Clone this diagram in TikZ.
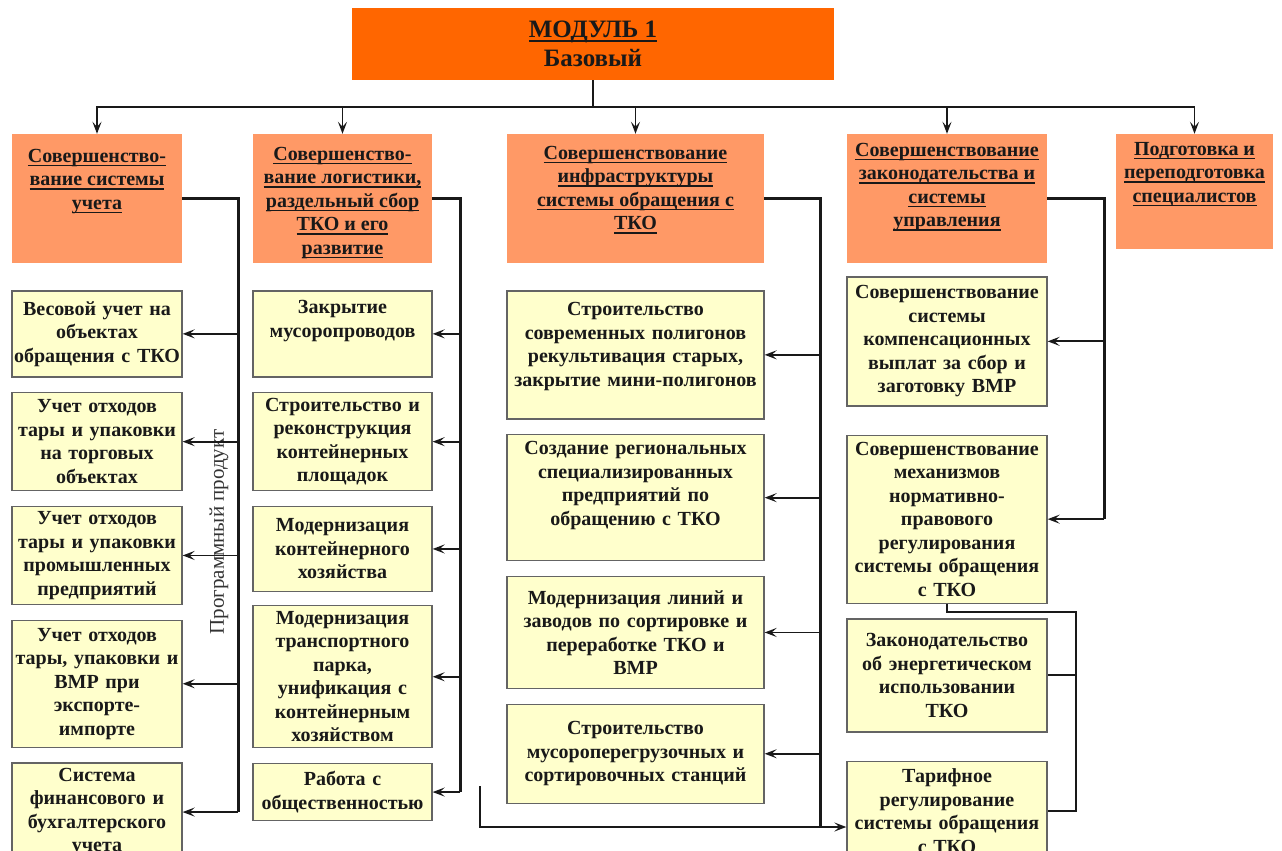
\documentclass[tikz,border=0pt]{standalone}
\usepackage{fontspec}
\setmainfont{Liberation Serif}
\usetikzlibrary{arrows.meta,positioning,calc}
\definecolor{modorange}{RGB}{255,102,0}
\definecolor{headsalmon}{RGB}{255,153,102}
\definecolor{itemyellow}{RGB}{255,255,204}
\definecolor{edgegray}{RGB}{100,100,100}
\definecolor{inkdark}{RGB}{25,25,25}
\newsavebox\ulbox
\newcommand{\uln}[1]{\leavevmode\sbox\ulbox{#1}\rlap{\rule[-4pt]{\wd\ulbox}{1.5pt}}\usebox\ulbox}
\newcommand{\toptext}[4]{\parbox[c][#2][t]{#1}{\centering\rule{0pt}{#3}#4}}
\tikzset{
  basefont/.style={font=\bfseries\fontsize{20}{23.5}\selectfont,text=inkdark},
  modbox/.style={rectangle,fill=modorange,minimum width=482pt,minimum height=72pt,inner sep=0pt,align=center,
    font=\bfseries\fontsize{25}{29}\selectfont,text=inkdark},
  headbox/.style={rectangle,fill=headsalmon,inner sep=0pt,basefont},
  itembox/.style={rectangle,fill=itemyellow,draw=edgegray,line width=1.3pt,inner sep=0pt,align=center,basefont},
  col1box/.style={itembox,minimum width=170pt,text width=168pt},
  col2box/.style={itembox,minimum width=179pt,text width=177pt},
  col3box/.style={itembox,minimum width=257pt,text width=255pt},
  col4box/.style={itembox,minimum width=200pt,text width=198pt},
  progtext/.style={font=\fontsize{21}{24}\selectfont,text=black!80},
  conn/.style={line width=2pt,color=inkdark},
  spine/.style={line width=2.6pt,color=inkdark},
  arr/.style={-{Stealth[length=12pt,width=9pt,inset=5pt]},line width=1.8pt,color=inkdark}
}

\begin{document}
\begin{tikzpicture}[x=1pt,y=-1pt,node distance=14.5pt]
  \useasboundingbox (0,0) rectangle (1282,851);

  \node[modbox] (mod) at (593,44) {\uln{МОДУЛЬ 1}\\Базовый};

  % directions of the module
  \node[headbox,minimum width=170pt] (h1) at (97,198.5)
    {\toptext{170pt}{129pt}{28pt}{\uln{Совершенство-}\\\uln{вание системы}\\\uln{учета}}};
  \node[headbox,minimum width=179pt] (h2) at (342.5,198.5)
    {\toptext{179pt}{129pt}{26pt}{\uln{Совершенство-}\\\uln{вание логистики,}\\\uln{раздельный сбор}\\\uln{ТКО и его}\\\uln{развитие}}};
  \node[headbox,minimum width=257pt] (h3) at (635.5,198.5)
    {\toptext{257pt}{129pt}{25pt}{\uln{Совершенствование}\\\uln{инфраструктуры}\\\uln{системы обращения с}\\\uln{ТКО}}};
  \node[headbox,minimum width=200pt] (h4) at (947,198.5)
    {\toptext{200pt}{129pt}{22pt}{\uln{Совершенствование}\\\uln{законодательства и}\\\uln{системы}\\\uln{управления}}};
  \node[headbox,minimum width=157pt] (h5) at (1194.5,191.5)
    {\toptext{157pt}{115pt}{21pt}{\uln{Подготовка и}\\\uln{переподготовка}\\\uln{специалистов}}};

  % column 1
  \node[col1box,minimum height=86pt,below=27pt of h1] (c1a) {Весовой учет на\\объектах\\обращения с ТКО};
  \node[col1box,minimum height=98pt,below=of c1a] (c1b) {Учет отходов\\тары и упаковки\\на торговых\\объектах};
  \node[col1box,minimum height=98pt,below=of c1b] (c1c) {Учет отходов\\тары и упаковки\\промышленных\\предприятий};
  \node[col1box,minimum height=127pt,below=of c1c] (c1d) {Учет отходов\\тары, упаковки и\\ВМР при\\экспорте-\\импорте};
  \node[col1box,minimum height=98pt,below=of c1d] (c1e) {Система\\финансового и\\бухгалтерского\\учета};

  % column 2
  \node[col2box,minimum height=86pt,below=27pt of h2] (c2a)
    {\toptext{177pt}{86pt}{23pt}{Закрытие\\мусоропроводов}};
  \node[col2box,minimum height=98pt,below=of c2a] (c2b) {Строительство и\\реконструкция\\контейнерных\\площадок};
  \node[col2box,minimum height=85pt,below=of c2b] (c2c) {Модернизация\\контейнерного\\хозяйства};
  \node[col2box,minimum height=142pt,below=13pt of c2c] (c2d) {Модернизация\\транспортного\\парка,\\унификация с\\контейнерным\\хозяйством};
  \node[col2box,minimum height=57pt,below=of c2d] (c2e) {Работа с\\общественностью};

  % column 3
  \node[col3box,minimum height=128pt,below=27pt of h3] (c3a)
    {\toptext{255pt}{128pt}{25pt}{Строительство\\современных полигонов\\рекультивация старых,\\закрытие мини-полигонов}};
  \node[col3box,minimum height=126pt,below=of c3a] (c3b)
    {\toptext{255pt}{126pt}{20pt}{Создание региональных\\специализированных\\предприятий по\\обращению с ТКО}};
  \node[col3box,minimum height=112pt,below=of c3b] (c3c) {Модернизация линий и\\заводов по сортировке и\\переработке ТКО и\\ВМР};
  \node[col3box,minimum height=99pt,below=of c3c] (c3d) {Строительство\\мусороперегрузочных и\\сортировочных станций};

  % column 4
  \node[col4box,minimum height=129pt,below=13pt of h4] (c4a) {Совершенствование\\системы\\компенсационных\\выплат за сбор и\\заготовку ВМР};
  \node[col4box,minimum height=168pt,below=28pt of c4a] (c4b) {Совершенствование\\механизмов\\нормативно-\\правового\\регулирования\\системы обращения\\с ТКО};
  \node[col4box,minimum height=113pt,below=of c4b] (c4c) {Законодательство\\об энергетическом\\использовании\\ТКО};
  \node[col4box,minimum height=100pt,below=28pt of c4c] (c4d) {Тарифное\\регулирование\\системы обращения\\с ТКО};

  \node[progtext,rotate=90] (prog) at (219,532) {Программный продукт};

  % connectors
  \draw[conn] (mod.south) -- ++(0,27) coordinate (bus);
  \foreach \h in {h1,h2,h3,h4,h5}
    \draw[arr] (bus) -| (\h.north);

  \draw[spine] (h1.east) -- ++(56,0) coordinate (s1) -- (s1 |- c1e.east);
  \foreach \c in {c1a,c1b,c1c,c1d,c1e}
    \draw[arr] (s1 |- \c.east) -- (\c.east);

  \draw[spine] (h2.east) -- ++(28,0) coordinate (s2) -- (s2 |- c2e.east);
  \foreach \c in {c2a,c2b,c2c,c2d,c2e}
    \draw[arr] (s2 |- \c.east) -- (\c.east);

  \coordinate (feed) at (480,786);
  \coordinate (lowturn) at (480,827);
  \draw[spine] (h3.east) -- ++(56,0) coordinate (s3) -- (s3 |- lowturn);
  \foreach \c in {c3a,c3b,c3c,c3d}
    \draw[arr] (s3 |- \c.east) -- (\c.east);
  \draw[arr] (feed) -- (lowturn) -- (c4d.west |- lowturn);

  \draw[spine] (h4.east) -- ++(57,0) coordinate (s4) -- (s4 |- c4b.east);
  \foreach \c in {c4a,c4b}
    \draw[arr] (s4 |- \c.east) -- (\c.east);

  \coordinate (s5) at ($(c4b.south east)+(28,8)$);
  \draw[conn] (c4b.south) |- (s5) -- (s5 |- c4d.east) -- (c4d.east);
  \draw[conn] (s5 |- c4c.east) -- (c4c.east);
\end{tikzpicture}
\end{document}
